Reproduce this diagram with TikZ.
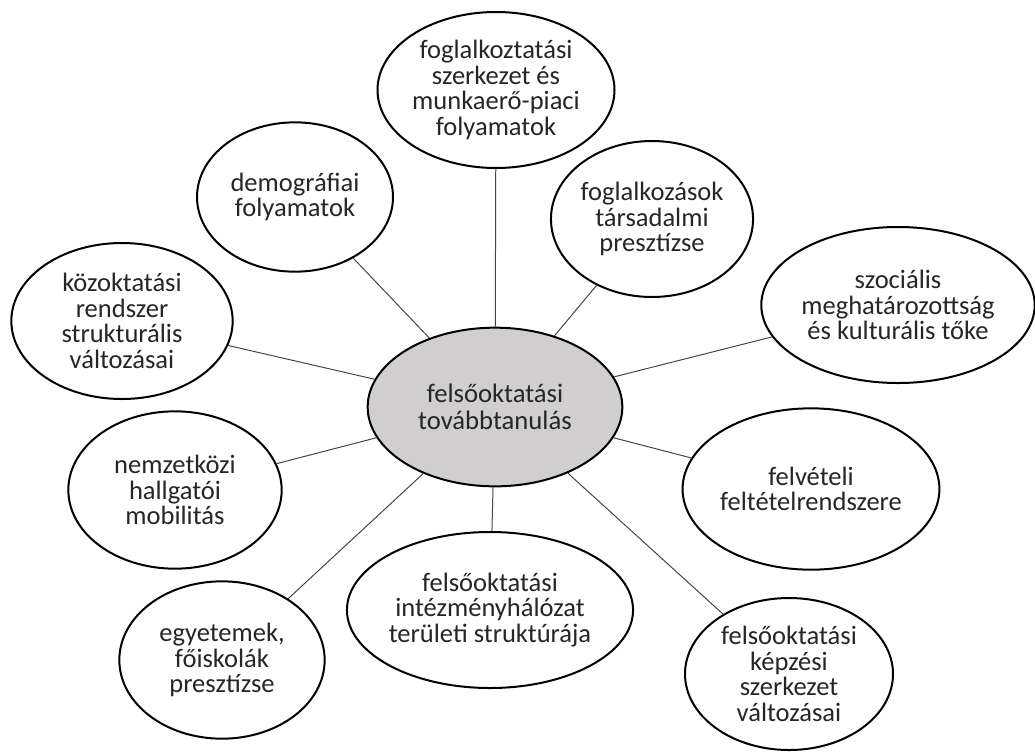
\documentclass[tikz,border=0pt]{standalone}
\usepackage{fontspec}
\setmainfont{Carlito}
\usetikzlibrary{shapes.geometric}
\definecolor{hubgray}{RGB}{208,206,206}
\definecolor{linkgray}{RGB}{70,70,70}
\definecolor{textgray}{RGB}{38,38,38}
\tikzset{
  bubble/.style={ellipse, draw, line width=1.5pt, fill=white, align=center, inner sep=0pt,
    text=textgray, font=\fontsize{19.9}{19.2}\selectfont},
  hub/.style={bubble, fill=hubgray, font=\fontsize{20}{20.5}\selectfont},
  link/.style={line width=0.75pt, draw=linkgray}
}

\begin{document}
\begin{tikzpicture}[x=0.75pt,y=-0.75pt]
	  \useasboundingbox (0,0) rectangle (1035,751);
	  \node [hub, minimum width=191pt, minimum height=119pt] (hub) at (495,407) {felsőoktatási\\továbbtanulás};
	  \node [bubble, minimum width=171pt, minimum height=117pt] (fog) at (496,90) {foglalkoztatási\\szerkezet és\\munkaerő-piaci\\folyamatok};
	  \node [bubble, minimum width=147pt, minimum height=112pt] (dem) at (295,197) {demográfiai\\folyamatok};
	  \node [bubble, minimum width=149pt, minimum height=117pt] (pre) at (652,219) {foglalkozások\\társadalmi\\presztízse};
	  \node [bubble, minimum width=202pt, minimum height=117pt] (szo) at (898,305) {szociális\\meghatározottság\\és kulturális tőke};
	  \node [bubble, minimum width=166pt, minimum height=117pt] (koz) at (122,321) {közoktatási\\rendszer\\strukturális\\változásai};
	  \node [bubble, minimum width=160pt, minimum height=118pt] (nem) at (175,490) {nemzetközi\\hallgatói\\mobilitás};
	  \node [bubble, minimum width=190pt, minimum height=121pt] (fel) at (811,489) {felvételi\\feltételrendszere};
	  \node [bubble, minimum width=154pt, minimum height=118pt] (egy) at (222,660) {egyetemek,\\főiskolák\\presztízse};
	  \node [bubble, minimum width=211pt, minimum height=117pt] (int) at (490,610) {felsőoktatási\\intézményhálózat\\területi struktúrája};
	  \node [bubble, minimum width=156pt, minimum height=114pt] (kep) at (789,674) {felsőoktatási\\képzési\\szerkezet\\változásai};
	  \foreach \n in {fog,dem,pre,szo,koz,nem,fel,egy,int,kep}
	    \draw [link] (hub) -- (\n);
	 \end{tikzpicture}
\end{document}
